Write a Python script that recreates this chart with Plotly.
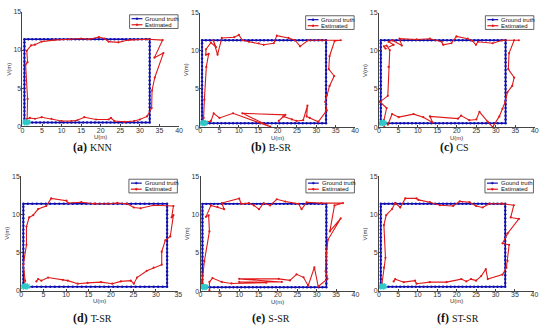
import plotly.graph_objects as go

# ---------------- data ----------------
GT_U_STEPS = [0.5, 1.5, 2.5, 3.5, 4.5, 5.5, 6.5, 7.5, 8.5, 9.5, 10.5, 11.5, 12.5, 13.5, 14.5, 15.5,
              16.5, 17.5, 18.5, 19.5, 20.5, 21.5, 22.5, 23.5, 24.5, 25.5, 26.5, 27.5, 28.5, 29.5,
              30.5, 31.5, 32.5]
GT_V_STEPS = [0.5, 1.0, 1.5, 2.0, 2.5, 3.0, 3.5, 4.0, 4.5, 5.0, 5.5, 6.0, 6.5, 7.0, 7.5, 8.0,
              8.5, 9.0, 9.5, 10.0, 10.5, 11.0, 11.4]

START_U = [0.5, 0.8, 1.1, 1.4]
START_V = [0.5, 0.6, 0.5, 0.55]

PANELS = ["(a)", "(b)", "(c)", "(d)", "(e)", "(f)"]
METHODS = ["KNN", "B-SR", "CS", "T-SR", "S-SR", "ST-SR"]
LEGEND_GT = ["Ground truth", "Ground truth", "Ground truth", "Ground truth", "Ground truth", "Gound truth"]
LEGEND_EST = "Estimated"
X_MAX = [40, 40, 40, 35, 40, 40]
X_TICKS = [[0, 5, 10, 15, 20, 25, 30, 35, 40]] * 3 + [[0, 5, 10, 15, 20, 25, 30, 35]] + [[0, 5, 10, 15, 20, 25, 30, 35, 40]] * 2
Y_TICKS = [0, 5, 10, 15]

KNN_U = [0.7, 1.2, 1.3, 0.8, 1.3, 1.1, 2.2, 3.2, 4.9, 8.0, 12.0, 15.0, 17.0, 19.5, 21.0, 22.0, 24.5, 27.0,
         32.0, 35.8, 33.7, 36.0, 33.8, 33.1, 33.0, 31.8, 30.0, 28.5, 26.0, 23.5, 22.6, 22.0, 18.8, 15.8,
         14.0, 12.5, 10.0, 7.4, 4.9, 3.2, 1.9, 1.2]
KNN_V = [0.5, 1.0, 3.6, 8.1, 8.4, 9.9, 10.6, 10.7, 11.1, 11.3, 11.4, 11.5, 11.4, 11.7, 11.5, 11.1, 11.0, 11.3,
         11.4, 11.3, 9.0, 9.6, 6.4, 4.7, 2.4, 1.3, 0.9, 0.7, 0.6, 0.7, 1.1, 0.9, 0.9, 1.2,
         0.8, 0.7, 0.7, 1.0, 1.2, 1.0, 1.1, 1.0]

BSR_U = [0.7, 0.9, 1.1, 1.6, 2.2, 1.5, 1.5, 2.8, 4.1, 3.4, 4.5, 5.6, 8.8, 10.0, 10.9, 12.6, 15.1, 16.4, 19.0,
         19.8, 22.8, 24.5, 25.8, 27.9, 30.9, 36.3, 34.7, 33.4, 33.2, 34.6, 33.4, 32.7, 32.3, 32.7, 30.5,
         28.3, 27.5, 27.7, 26.6, 24.9, 23.7, 21.5, 20.3, 22.0, 10.9, 18.1, 8.5, 5.0, 3.5, 2.8, 1.2]
BSR_V = [0.5, 1.2, 3.6, 7.9, 9.6, 9.5, 10.2, 11.1, 10.5, 11.4, 9.5, 11.7, 11.8, 12.1, 11.4, 11.2, 11.0, 10.8, 11.0,
         12.0, 11.7, 11.4, 10.6, 11.4, 11.4, 11.4, 11.3, 9.3, 7.6, 6.7, 5.4, 4.2, 3.3, 2.2, 0.7,
         1.2, 1.4, 2.8, 0.9, 0.8, 1.0, 1.4, 0.8, 1.6, 1.8, 0.05, 1.8, 1.2, 1.8, 0.8, 0.6]

CS_U = [1.4, 1.3, 2.0, 0.3, 2.3, 2.5, 2.8, 2.0, 1.3, 1.7, 3.8, 2.5, 3.4, 5.9, 5.3, 9.7, 13.1, 16.1, 16.5, 18.6,
        19.9, 22.8, 24.0, 24.9, 25.4, 29.2, 31.7, 35.9, 34.7, 33.4, 33.2, 34.7, 34.2, 33.0, 32.4, 31.7,
        30.9, 29.2, 27.9, 25.8, 25.0, 23.2, 21.1, 20.3, 13.1, 13.8, 11.4, 8.9, 5.1, 3.4, 2.3]
CS_V = [0.0, 0.9, 2.5, 3.3, 4.1, 7.9, 10.1, 10.7, 10.6, 10.3, 10.8, 11.2, 11.4, 10.7, 11.6, 11.5, 11.6, 11.2, 10.8, 11.0,
        11.9, 11.6, 11.3, 10.8, 11.2, 11.0, 11.4, 11.4, 11.4, 9.7, 7.6, 6.5, 5.4, 4.6, 3.3, 2.4,
        1.4, 0.0, 0.7, 2.0, 1.0, 0.9, 1.5, 1.1, 1.4, 0.6, 1.3, 1.7, 1.3, 1.7, 0.3]

TSR_U = [0.7, 0.9, 0.5, 1.2, 1.2, 1.8, 2.7, 3.8, 5.6, 6.7, 10.1, 10.4, 13.4, 16.3, 19.2, 21.4, 23.6, 25.1,
         26.6, 29.5, 33.9, 33.5, 33.9, 33.2, 32.1, 31.3, 31.3, 29.5, 28.0, 25.8, 25.1, 24.4, 22.2, 20.3,
         17.8, 14.8, 12.6, 10.4, 9.3, 6.0, 4.5, 3.8, 3.4]
TSR_V = [0.5, 1.3, 3.4, 6.0, 8.4, 9.6, 9.9, 10.7, 11.1, 12.1, 11.8, 11.5, 11.6, 11.4, 11.4, 11.5, 11.4, 10.9,
         10.8, 11.2, 11.1, 9.6, 9.9, 7.1, 6.6, 5.1, 3.4, 3.0, 2.6, 1.7, 0.9, 1.3, 1.2, 0.9,
         1.1, 1.0, 0.9, 1.3, 1.4, 1.7, 1.3, 1.5, 1.2]

SSR_U = [0.7, 0.4, 1.0, 2.3, 2.1, 1.4, 2.7, 4.4, 6.1, 5.5, 10.0, 10.5, 12.5, 13.8, 15.1, 16.3, 18.0, 19.7,
         21.9, 25.3, 26.1, 27.4, 31.2, 36.8, 34.6, 33.4, 36.2, 32.9, 32.5, 32.3, 32.8, 30.4, 29.4, 27.8,
         26.6, 24.8, 23.1, 20.2, 10.0, 21.0, 10.0, 17.0, 8.0, 5.5, 3.1, 2.3, 2.3]
SSR_V = [0.5, 1.2, 3.9, 7.8, 9.9, 9.7, 11.2, 11.0, 10.7, 11.5, 12.1, 11.4, 11.5, 11.2, 10.7, 11.5, 11.2, 12.0,
         11.7, 11.4, 10.7, 11.6, 11.5, 11.5, 11.2, 7.8, 9.5, 6.7, 4.8, 2.6, 1.6, 0.6, 3.1, 0.7,
         1.8, 2.2, 1.4, 1.6, 1.6, 1.2, 1.2, 1.1, 1.0, 1.2, 1.7, 1.2, 0.1]

STSR_U = [0.7, 0.8, 1.3, 1.7, 1.3, 1.9, 3.4, 4.2, 5.5, 6.8, 9.7, 10.2, 13.1, 15.7, 19.1, 20.8, 23.3, 25.0,
          26.7, 28.4, 31.8, 34.7, 33.9, 36.0, 33.1, 31.8, 33.5, 33.1, 32.8, 31.8, 28.0, 27.5, 26.3, 25.0,
          23.7, 22.5, 21.2, 17.4, 13.1, 9.7, 9.3, 6.4, 4.2, 3.8]
STSR_V = [0.5, 0.9, 3.0, 4.3, 8.6, 9.9, 10.7, 11.5, 10.9, 12.1, 12.1, 11.9, 11.6, 11.2, 11.1, 11.7, 11.6, 11.1,
          10.9, 11.4, 11.4, 11.2, 9.6, 9.4, 7.5, 6.2, 6.0, 3.9, 3.0, 2.1, 1.5, 2.8, 1.9, 1.3,
          1.5, 1.2, 1.5, 1.1, 1.1, 0.9, 1.3, 1.1, 1.5, 1.2]

EST_U = [KNN_U, BSR_U, CS_U, TSR_U, SSR_U, STSR_U]
EST_V = [KNN_V, BSR_V, CS_V, TSR_V, SSR_V, STSR_V]

# ---------------- layout helpers ----------------
W, H = 550, 332
# plot areas in pixels: (left, right, top, bottom)
BOXES = [
    (20.7, 179.0, 8.0, 125.0),
    (200.3, 357.0, 9.0, 125.7),
    (381.0, 538.7, 9.0, 125.7),
    (19.3, 178.3, 176.0, 292.7),
    (200.7, 357.3, 176.0, 293.3),
    (381.0, 538.3, 176.0, 292.7),
]
CAPTION_POS = [(92, 146), (272, 146), (457, 146), (92, 321), (272, 321), (461, 321)]

def px(x):
    return x / W

def py(y):
    return 1 - y / H

# ground-truth path built from the step lists
top = GT_V_STEPS[-1]
bot = GT_V_STEPS[0]
left = GT_U_STEPS[0]
right = GT_U_STEPS[-1]
gt_u = ([left] * len(GT_V_STEPS) + GT_U_STEPS[1:] + [right] * (len(GT_V_STEPS) - 1)
        + GT_U_STEPS[::-1][1:])
gt_v = (GT_V_STEPS + [top] * (len(GT_U_STEPS) - 1) + GT_V_STEPS[::-1][1:]
        + [bot] * (len(GT_U_STEPS) - 1))

BLUE = "#1010b0"
RED = "#e01818"
CYAN = "#30c8c8"

fig = go.Figure()
shapes = []
annotations = []

for i in range(6):
    n = "" if i == 0 else str(i + 1)
    xa, ya = "x" + n, "y" + n
    l, r, t, b = BOXES[i]
    fig.add_trace(go.Scatter(x=gt_u, y=gt_v, xaxis=xa, yaxis=ya, mode="lines+markers",
                             line=dict(color=BLUE, width=1.5), marker=dict(color=BLUE, size=2.4),
                             showlegend=False, hoverinfo="skip"))
    fig.add_trace(go.Scatter(x=EST_U[i], y=EST_V[i], xaxis=xa, yaxis=ya, mode="lines+markers",
                             line=dict(color=RED, width=1.1), marker=dict(color=RED, size=2.2),
                             showlegend=False, hoverinfo="skip"))
    fig.add_trace(go.Scatter(x=START_U, y=START_V, xaxis=xa, yaxis=ya, mode="markers",
                             marker=dict(color=CYAN, size=5, symbol="asterisk-open",
                                         line=dict(color=CYAN, width=1.2)),
                             showlegend=False, hoverinfo="skip"))
    axis_common = dict(showline=True, linecolor="#444", linewidth=0.8, ticks="inside", ticklen=2,
                       tickcolor="#444", tickwidth=0.8, showgrid=False, zeroline=False,
                       tickfont=dict(family="Liberation Sans", size=7, color="#333"), fixedrange=True)
    fig.update_layout(**{
        ("xaxis" + n): dict(domain=[px(l), px(r)], range=[0, X_MAX[i]], tickvals=X_TICKS[i],
                            anchor=ya, ticklabelstandoff=-3, **axis_common),
        ("yaxis" + n): dict(domain=[py(b), py(t)], range=[0, 15], tickvals=Y_TICKS,
                            anchor=xa, ticklabelstandoff=-1, **axis_common),
    })
    # axis titles
    annotations.append(dict(x=px((l + r) / 2), y=py(b + 11), xref="paper", yref="paper",
                            text="U(m)", showarrow=False, font=dict(family="Liberation Sans", size=6, color="#333"),
                            xanchor="center", yanchor="middle"))
    annotations.append(dict(x=px(l - 14), y=py((t + b) / 2), xref="paper", yref="paper",
                            text="V(m)", showarrow=False, textangle=-90,
                            font=dict(family="Liberation Sans", size=6, color="#333"),
                            xanchor="center", yanchor="middle"))
    # legend box
    lr = r - 1
    ll = lr - 49
    lt = t + 3
    lb = lt + 14
    shapes.append(dict(type="rect", xref="paper", yref="paper", x0=px(ll), x1=px(lr), y0=py(lb), y1=py(lt),
                       line=dict(color="#222", width=0.7), fillcolor="white", layer="above"))
    for k, (col, lab) in enumerate([(BLUE, LEGEND_GT[i]), (RED, LEGEND_EST)]):
        yy = lt + 4 + k * 6.2
        shapes.append(dict(type="line", xref="paper", yref="paper", x0=px(ll + 2), x1=px(ll + 13),
                           y0=py(yy), y1=py(yy), line=dict(color=col, width=1.2), layer="above"))
        shapes.append(dict(type="circle", xref="paper", yref="paper", x0=px(ll + 6.5), x1=px(ll + 8.5),
                           y0=py(yy + 1), y1=py(yy - 1), line=dict(color=col, width=0.5),
                           fillcolor=col, layer="above"))
        annotations.append(dict(x=px(ll + 14), y=py(yy), xref="paper", yref="paper", text=lab,
                                showarrow=False, xanchor="left", yanchor="middle",
                                font=dict(family="Liberation Sans", size=6, color="#111")))
    # caption
    cx, cy = CAPTION_POS[i]
    annotations.append(dict(x=px(cx), y=py(cy), xref="paper", yref="paper",
                            text="<b>" + PANELS[i] + "</b> <span style='font-size:10px'>" + METHODS[i] + "</span>",
                            showarrow=False, xanchor="center", yanchor="middle",
                            font=dict(family="Liberation Serif", size=12, color="#111")))

fig.update_layout(width=W, height=H, margin=dict(l=0, r=0, t=0, b=0),
                  paper_bgcolor="white", plot_bgcolor="white", showlegend=False,
                  shapes=shapes, annotations=annotations)

fig.write_html("out.html", config={"displayModeBar": False},
               post_script="document.body.style.margin='0';document.body.style.overflow='hidden';")
